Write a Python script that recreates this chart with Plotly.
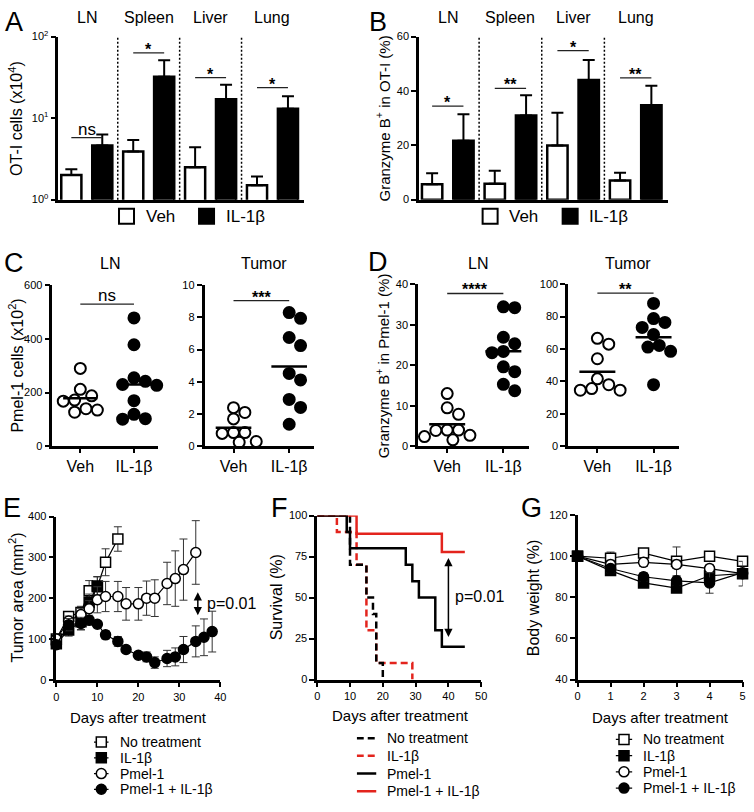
import numpy as np
import plotly.graph_objects as go

W, H = 754, 812
FONT = "Liberation Sans, Arial, Helvetica, sans-serif"
RED = "#e3241d"

# ---------------- data ----------------
organs = ["LN", "Spleen", "Liver", "Lung"]
treat = ["Veh", "IL-1β"]

A_veh = [2.0, 3.9, 2.5, 1.5]
A_veh_sem = [0.35, 1.5, 1.9, 0.42]
A_il = [4.6, 32.0, 17.0, 13.0]
A_il_sem = [1.7, 19.0, 8.6, 5.5]
A_sig = ["ns", "*", "*", "*"]
A_sig_y = [5.75, 63.0, 31.4, 23.6]
A_ticks = [1, 10, 100]
A_ticktext = ["10<sup>0</sup>", "10<sup>1</sup>", "10<sup>2</sup>"]

B_veh = [5.7, 5.8, 19.9, 7.0]
B_veh_sem = [4.0, 4.8, 12.1, 2.9]
B_il = [21.7, 30.9, 44.0, 34.7]
B_il_sem = [9.7, 7.5, 7.4, 7.2]
B_sig = ["*", "**", "*", "**"]
B_sig_y = [34.4, 40.9, 54.8, 44.8]
B_ticks = [0, 20, 40, 60]

C_ln_veh = [290, 212, 188, 168, 172, 140, 127, 135]
C_ln_il = [478, 378, 255, 242, 230, 227, 170, 119, 103, 101]
C_ln_sig, C_ln_sig_y = "ns", 529
C_ln_ticks = [0, 200, 400, 600]
C_tu_veh = [2.4, 2.1, 1.7, 0.85, 0.85, 0.8, 0.3, 0.25]
C_tu_il = [8.3, 7.94, 6.75, 6.25, 4.52, 4.12, 2.91, 2.41, 1.37]
C_tu_sig, C_tu_sig_y = "***", 9.04
C_tu_ticks = [0, 2, 4, 6, 8, 10]

D_ln_veh = [13.0, 9.5, 7.9, 4.0, 3.9, 4.0, 2.7, 2.4, 1.6]
D_ln_il = [34.4, 34.2, 26.9, 25.3, 23.1, 23.4, 19.6, 18.4, 15.3, 13.7]
D_ln_sig, D_ln_sig_y = "****", 37.7
D_ln_ticks = [0, 10, 20, 30, 40]
D_tu_veh = [66.6, 63.0, 54.0, 41.6, 38.0, 35.6, 34.6, 34.6]
D_tu_il = [88.1, 78.8, 76.4, 73.3, 68.9, 62.2, 61.2, 58.6, 38.0]
D_tu_sig, D_tu_sig_y = "**", 94.5
D_tu_ticks = [0, 20, 40, 60, 80, 100]

series_names = ["No treatment", "IL-1β", "Pmel-1", "Pmel-1 + IL-1β"]

E_nt_days = [0, 3, 6, 8, 10, 12, 15]
E_nt = [100, 155, 165, 218, 228, 288, 345]
E_nt_sem = [5, 12, 15, 25, 25, 33, 30]
E_il_days = [0, 3, 6, 8, 10]
E_il = [88, 122, 142, 190, 230]
E_il_sem = [8, 15, 20, 20, 22]
E_p_days = [0, 3, 6, 8, 10, 12, 15, 17, 20, 22, 24, 27, 29, 31, 34]
E_p = [100, 144, 160, 174, 196, 204, 204, 186, 186, 200, 200, 236, 248, 270, 312]
E_p_sem = [5, 12, 15, 20, 32, 37, 37, 40, 40, 42, 45, 52, 68, 75, 78]
E_pi_days = [0, 3, 6, 8, 10, 12, 15, 17, 20, 22, 24, 27, 29, 31, 34, 36, 38]
E_pi = [86, 135, 138, 146, 136, 110, 94, 74, 60, 56, 42, 52, 56, 74, 94, 104, 118]
E_pi_sem = [8, 15, 15, 12, 8, 10, 12, 8, 8, 12, 14, 20, 22, 32, 38, 45, 50]
E_xticks = [0, 10, 20, 30, 40]
E_yticks = [0, 100, 200, 300, 400]
p_text = "p=0.01"
E_arrow_day, E_arrow_hi, E_arrow_lo = 34.5, 218, 158

F_nt_days = [0, 10, 15, 17, 18, 20]
F_nt = [100, 70, 50, 40, 10, 0]
F_il_days = [0, 6, 12, 15, 18, 29]
F_il = [100, 90, 70, 30, 10, 0]
F_p_days = [0, 9, 10, 27, 29, 31, 36, 38, 45]
F_p = [100, 90, 80, 70, 60, 50, 30, 20, 20]
F_pi_days = [0, 12, 38, 45]
F_pi = [100, 88.9, 77.8, 77.8]
F_xticks = [0, 10, 20, 30, 40, 50]
F_yticks = [0, 25, 50, 75, 100]
F_arrow_day, F_arrow_hi, F_arrow_lo = 40, 75, 26

G_days = [0, 1, 2, 3, 4, 5]
G_nt = [100, 99, 101.5, 97.5, 100, 97.5]
G_nt_sem = [0, 3, 1, 7, 2, 1]
G_il = [100, 93, 87, 84.5, 90.5, 91.5]
G_il_sem = [0, 2, 2, 2, 2, 6]
G_p = [100, 96, 97, 96, 94, 91.5]
G_p_sem = [0, 2, 2, 2, 2, 2]
G_pi = [100, 94, 90, 88, 87, 92]
G_pi_sem = [0, 2, 2, 2, 5, 2]
G_yticks = [40, 60, 80, 100, 120]

# ---------------- helpers ----------------
def X(px):
    return px / W


def Y(py):
    return 1 - py / H


fig = go.Figure()
layout = dict(width=W, height=H, margin=dict(l=0, r=0, t=0, b=0),
              paper_bgcolor="white", plot_bgcolor="white", barmode="overlay",
              font=dict(family=FONT, color="black"), showlegend=False)
annotations = []
shapes = []


def axis_common():
    return dict(showline=True, linecolor="black", linewidth=2.5, ticks="outside",
                ticklen=5, tickwidth=2, tickcolor="black", showgrid=False,
                zeroline=False, fixedrange=True, tickprefix="<b>", ticksuffix="</b>",
                tickfont=dict(family=FONT, size=11, color="black"))


def make_axes(i, xpx, ypx, xo, yo):
    s = "" if i == 1 else str(i)
    xa = axis_common()
    xa.update(domain=[X(xpx[0]), X(xpx[1])], anchor="y" + s)
    xa.update(xo)
    ya = axis_common()
    ya.update(domain=[Y(ypx[1]), Y(ypx[0])], anchor="x" + s)
    ya.update(yo)
    layout["xaxis" + s] = xa
    layout["yaxis" + s] = ya
    return "x" + s, "y" + s


def hidden_axes(i, xpx, ypx, xr, yr):
    s = str(i)
    layout["xaxis" + s] = dict(domain=[X(xpx[0]), X(xpx[1])], anchor="y" + s, range=xr,
                               visible=False, fixedrange=True)
    layout["yaxis" + s] = dict(domain=[Y(ypx[1]), Y(ypx[0])], anchor="x" + s, range=yr,
                               visible=False, fixedrange=True)
    return "x" + s, "y" + s


def text(x, y, t, size=16, xref="paper", yref="paper", angle=0, xanchor="center",
         yanchor="middle", yshift=0, xshift=0, bold=False):
    annotations.append(dict(x=x, y=y, xref=xref, yref=yref,
                            text=("<b>%s</b>" % t) if bold else t, showarrow=False,
                            textangle=angle, xanchor=xanchor, yanchor=yanchor,
                            yshift=yshift, xshift=xshift,
                            font=dict(family=FONT, size=size, color="black",
                                      weight="normal")))


def ptext(px, py, t, size=16, angle=0, xanchor="center"):
    text(X(px), Y(py), t, size=size, angle=angle, xanchor=xanchor)


def swarm(vals, ppx_x, ppx_y, d=11.5):
    placed = []
    offs = [0.0] * len(vals)
    order = sorted(range(len(vals)), key=lambda i: -vals[i])
    steps = [0.0]
    for k in range(1, 30):
        steps += [k * d / 2, -k * d / 2]
    for i in order:
        yp = vals[i] * ppx_y
        c = 0.0
        for c in steps:
            if all((c - a) ** 2 + (yp - b) ** 2 >= (d * 0.98) ** 2 for a, b in placed):
                break
        placed.append((c, yp))
        offs[i] = c / ppx_x
    return offs


def sig_mark(xa, ya, x0, x1, yv, label, ylog=False):
    fig.add_trace(go.Scatter(x=[x0, x1], y=[yv, yv], mode="lines",
                             line=dict(color="#222", width=1.3), xaxis=xa, yaxis=ya,
                             hoverinfo="skip", cliponaxis=False))
    star = "*" in label
    text((x0 + x1) / 2, np.log10(yv) if ylog else yv, label,
         size=16 if star else 17, xref=xa, yref=ya, yanchor="bottom",
         yshift=-7 if star else -3, bold=star)


# ---------------- A & B: bar charts ----------------
def bar_panel(idx, xpx, veh, veh_sem, il, il_sem, sig, sig_y, yopts, ylog):
    xa, ya = make_axes(idx, xpx, (29, 195),
                       dict(range=[-0.42, 7.53], showticklabels=False, ticks=""), yopts)
    pv = [2 * i for i in range(len(organs))]
    pi = [2 * i + 1 for i in range(len(organs))]
    for pos, vals, sem, fill in [(pv, veh, veh_sem, "white"), (pi, il, il_sem, "black")]:
        fig.add_trace(go.Bar(x=pos, y=vals, width=0.65,
                             marker=dict(color=fill, line=dict(color="black", width=2.5)),
                             error_y=dict(type="data", symmetric=False, array=sem,
                                          arrayminus=[0] * len(vals), color="black",
                                          thickness=2, width=6),
                             xaxis=xa, yaxis=ya))
    for i, org in enumerate(organs):
        sig_mark(xa, ya, pv[i], pi[i], sig_y[i], sig[i], ylog)
        text((pv[i] + pi[i]) / 2, Y(10), org, size=16, xref=xa, yref="paper")
        if i < len(organs) - 1:
            shapes.append(dict(type="line", xref=xa, yref=ya + " domain",
                               x0=pi[i] + 0.5, x1=pi[i] + 0.5, y0=0, y1=1,
                               line=dict(color="black", width=1.5, dash="2px,2px")))


bar_panel(1, (56, 305), A_veh, A_veh_sem, A_il, A_il_sem, A_sig, A_sig_y,
          dict(type="log", range=[0, 2], tickvals=A_ticks, ticktext=A_ticktext), True)
bar_panel(2, (421, 673), B_veh, B_veh_sem, B_il, B_il_sem, B_sig, B_sig_y,
          dict(range=[0, 60], tickvals=B_ticks), False)

# ---------------- C & D: dot plots ----------------
def dot_panel(idx, xpx, ypx, ymax, yticks, veh, il, sig, sig_y, title):
    xr = [-0.52, 1.45]
    xa, ya = make_axes(idx, xpx, ypx,
                       dict(range=xr, tickvals=[0, 1], ticktext=treat, ticklen=4,
                            tickprefix="", ticksuffix="",
                            tickfont=dict(family=FONT, size=16, color="black")),
                       dict(range=[0, ymax], tickvals=yticks))
    ppx_x = (xpx[1] - xpx[0]) / (xr[1] - xr[0])
    ppx_y = (ypx[1] - ypx[0]) / ymax
    for g, vals, fill in [(0, veh, "white"), (1, il, "black")]:
        offs = swarm(vals, ppx_x, ppx_y)
        fig.add_trace(go.Scatter(x=[g + o for o in offs], y=vals, mode="markers",
                                 marker=dict(size=11, color=fill,
                                             line=dict(color="black", width=2)),
                                 xaxis=xa, yaxis=ya, cliponaxis=False))
        m = float(np.mean(vals))
        fig.add_trace(go.Scatter(x=[g - 0.32, g + 0.32], y=[m, m], mode="lines",
                                 line=dict(color="black", width=2.5), xaxis=xa, yaxis=ya,
                                 cliponaxis=False))
    sig_mark(xa, ya, 0, 1, sig_y, sig)
    text(0.55, Y(260), title, size=16, xref=xa, yref="paper")


dot_panel(3, (50, 157), (282, 446), 600, C_ln_ticks, C_ln_veh, C_ln_il,
          C_ln_sig, C_ln_sig_y, "LN")
dot_panel(4, (204, 315), (282, 446), 10, C_tu_ticks, C_tu_veh, C_tu_il,
          C_tu_sig, C_tu_sig_y, "Tumor")
dot_panel(5, (420, 532), (281, 446), 40, D_ln_ticks, D_ln_veh, D_ln_il,
          D_ln_sig, D_ln_sig_y, "LN")
dot_panel(6, (572, 684), (281, 446), 100, D_tu_ticks, D_tu_veh, D_tu_il,
          D_tu_sig, D_tu_sig_y, "Tumor")

# ---------------- E: tumor growth ----------------
mk_sym = ["square", "square", "circle", "circle"]
mk_fill = ["white", "black", "white", "black"]

xa, ya = make_axes(7, (54, 220), (517.5, 683.5),
                   dict(range=[0, 40], tickvals=E_xticks), dict(range=[0, 400], tickvals=E_yticks))
E_series = [(E_nt_days, E_nt, E_nt_sem), (E_il_days, E_il, E_il_sem),
            (E_p_days, E_p, E_p_sem), (E_pi_days, E_pi, E_pi_sem)]
for k, (d, v, e) in enumerate(E_series):
    fig.add_trace(go.Scatter(x=d, y=v, mode="lines+markers",
                             marker=dict(symbol=mk_sym[k], size=10, color=mk_fill[k],
                                         line=dict(color="black", width=1.5)),
                             line=dict(color="black", width=1.2),
                             error_y=dict(type="data", array=e, color="#333",
                                          thickness=1, width=4),
                             xaxis=xa, yaxis=ya, cliponaxis=False))
annotations.append(dict(x=E_arrow_day, y=E_arrow_lo, ax=E_arrow_day, ay=E_arrow_hi,
                        xref=xa, yref=ya, axref=xa, ayref=ya, text="", showarrow=True,
                        arrowhead=2, arrowsize=1.1, arrowwidth=1.5, arrowside="end+start",
                        arrowcolor="black"))
text(E_arrow_day + 1.7, (E_arrow_hi + E_arrow_lo) / 2, p_text, size=16, xref=xa, yref=ya,
     xanchor="left")

# ---------------- F: survival ----------------
xa, ya = make_axes(8, (318, 484), (516.5, 683.3),
                   dict(range=[0, 50], tickvals=F_xticks), dict(range=[0, 100], tickvals=F_yticks))
F_color = ["black", RED, "black", RED]
F_dash = ["7px,4px", "7px,4px", "solid", "solid"]
F_series = {0: (F_nt_days, F_nt), 1: (F_il_days, F_il), 2: (F_p_days, F_p), 3: (F_pi_days, F_pi)}
for k in [1, 0, 3, 2]:
    d, v = F_series[k]
    fig.add_trace(go.Scatter(x=d, y=v, mode="lines",
                             line=dict(shape="hv", color=F_color[k], width=2.5, dash=F_dash[k]),
                             xaxis=xa, yaxis=ya, cliponaxis=False))
annotations.append(dict(x=F_arrow_day, y=F_arrow_lo, ax=F_arrow_day, ay=F_arrow_hi,
                        xref=xa, yref=ya, axref=xa, ayref=ya, text="", showarrow=True,
                        arrowhead=2, arrowsize=1.1, arrowwidth=1.5, arrowside="end+start",
                        arrowcolor="black"))
text(F_arrow_day + 1.5, (F_arrow_hi + F_arrow_lo) / 2, p_text, size=16, xref=xa, yref=ya,
     xanchor="left")

# ---------------- G: body weight ----------------
xa, ya = make_axes(9, (581.5, 748.5), (516, 683.3),
                   dict(range=[0, 5], tickvals=G_days), dict(range=[40, 120], tickvals=G_yticks))
G_series = [(G_nt, G_nt_sem), (G_il, G_il_sem), (G_p, G_p_sem), (G_pi, G_pi_sem)]
for k, (v, e) in enumerate(G_series):
    fig.add_trace(go.Scatter(x=G_days, y=v, mode="lines+markers",
                             marker=dict(symbol=mk_sym[k], size=10, color=mk_fill[k],
                                         line=dict(color="black", width=1.5)),
                             line=dict(color="black", width=1.2),
                             error_y=dict(type="data", array=e, color="#333",
                                          thickness=1, width=4),
                             xaxis=xa, yaxis=ya, cliponaxis=False))

# ---------------- legends (drawn on hidden axes) ----------------
def bar_legend(idx, xpx, ypx):
    xa, ya = hidden_axes(idx, xpx, ypx, [-0.5, 1.5], [-0.5, 0.5])
    for k, fill in enumerate(["white", "black"]):
        fig.add_trace(go.Scatter(x=[k], y=[0], mode="markers",
                                 marker=dict(symbol="square", size=15, color=fill,
                                             line=dict(color="black", width=2)),
                                 xaxis=xa, yaxis=ya, cliponaxis=False, hoverinfo="skip"))
        text(k, 0, treat[k], size=17, xref=xa, yref=ya, xanchor="left", xshift=17)


bar_legend(10, (84.5, 246.5), (204, 220))
bar_legend(11, (452.5, 614.5), (204, 220))


def series_legend(idx, xpx, ypx, kind):
    n = len(series_names)
    xa, ya = hidden_axes(idx, xpx, ypx, [0, 1], [n - 0.5, -0.5])
    for k in range(n):
        if kind == "marker":
            line = dict(color="black", width=1.2)
        else:
            line = dict(color=F_color[k], width=2.5, dash=F_dash[k])
        fig.add_trace(go.Scatter(x=[0, 1], y=[k, k], mode="lines", line=line,
                                 xaxis=xa, yaxis=ya, cliponaxis=False, hoverinfo="skip"))
        if kind == "marker":
            fig.add_trace(go.Scatter(x=[0.5], y=[k], mode="markers",
                                     marker=dict(symbol=mk_sym[k], size=10, color=mk_fill[k],
                                                 line=dict(color="black", width=1.5)),
                                     xaxis=xa, yaxis=ya, cliponaxis=False, hoverinfo="skip"))
        text(1, k, series_names[k], size=14, xref=xa, yref=ya, xanchor="left", xshift=9)


series_legend(12, (92, 107), (739, 803), "marker")
series_legend(13, (358, 378), (734, 806), "line")
series_legend(14, (620, 637), (736, 802), "marker")

# ---------------- text: titles, letters ----------------
for (px, py, t) in [(11, 14, "A"), (380, 14, "B"), (11, 259, "C"), (380, 258, "D"),
                    (9, 509, "E"), (280, 509, "F"), (535, 509, "G")]:
    ptext(px, py, t, size=27)

ptext(13, 112, "OT-I cells (x10<sup>4</sup>)", size=16, angle=-90)
ptext(384, 112, "Granzyme B<sup>+</sup> in OT-I (%)", size=15, angle=-90)
ptext(13, 364, "Pmel-1 cells (x10<sup>2</sup>)", size=16, angle=-90)
ptext(384, 364, "Granzyme B<sup>+</sup> in Pmel-1 (%)", size=15, angle=-90)
ptext(13, 600, "Tumor area (mm<sup>2</sup>)", size=16, angle=-90)
ptext(277, 600, "Survival (%)", size=16, angle=-90)
ptext(537, 600, "Body weight (%)", size=16, angle=-90)
ptext(137, 722, "Days after treatment", size=15)
ptext(402, 720, "Days after treatment", size=15)
ptext(665, 722, "Days after treatment", size=15)

layout["annotations"] = annotations
layout["shapes"] = shapes
fig.update_layout(**layout)
fig.write_html("out.html", config={"displayModeBar": False},
               post_script="document.body.style.margin='0';document.body.style.padding='0';")
